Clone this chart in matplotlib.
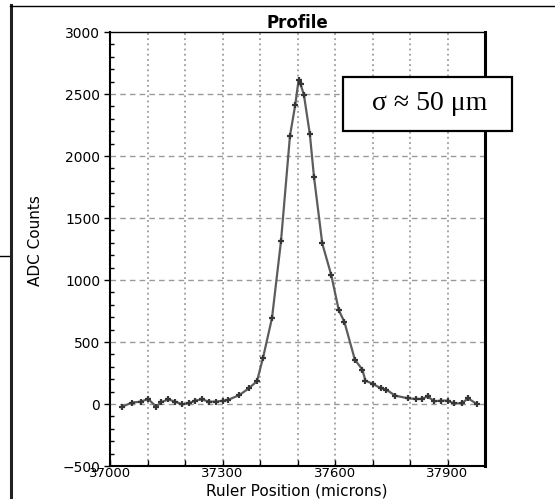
import numpy as np
import matplotlib
matplotlib.use("Agg")
import matplotlib.pyplot as plt
from matplotlib.patches import Rectangle
from matplotlib.lines import Line2D
from matplotlib.ticker import MultipleLocator, FixedLocator

# profile scan
position = [37033, 37058, 37082, 37102, 37123, 37136, 37155, 37174, 37192, 37210,
            37227, 37245, 37264, 37283, 37302, 37314, 37345, 37370, 37392, 37408,
            37432, 37456, 37480, 37494, 37503, 37508, 37517, 37533, 37544, 37566,
            37590, 37610, 37625, 37653, 37673, 37681, 37701, 37722, 37737, 37760,
            37794, 37815, 37832, 37847, 37864, 37883, 37900, 37917, 37938, 37955,
            37978]
adc_counts = [-21, 11, 19, 40, -21, 13, 37, 19, -3, 5,
              27, 37, 19, 19, 27, 32, 72, 126, 184, 372,
              693, 1314, 2165, 2412, 2615, 2580, 2495, 2174, 1831, 1295,
              1040, 757, 662, 357, 278, 189, 162, 127, 116, 68,
              46, 41, 41, 62, 22, 27, 27, 5, 5, 46,
              0]

x_ticks = list(range(37000, 38001, 100))
x_labelled = [37000, 37300, 37600, 37900]
y_ticks = list(range(-500, 3001, 500))

plt.rcParams["font.family"] = ["DejaVu Sans"]

fig = plt.figure(figsize=(5.55, 4.99), dpi=100)
W, H = 555, 499
ax = fig.add_axes([110 / W, 1 - 466 / H, 375 / W, 434 / H])

ax.plot(position, adc_counts, color="#5c5c5c", lw=1.6, zorder=3)
ax.plot(position, adc_counts, ls="none", marker="+", ms=5, mew=1.6,
        color="#363636", zorder=4)

ax.set_xlim(37000, 38000)
ax.set_ylim(-500, 3000)

ax.xaxis.set_major_locator(FixedLocator(x_ticks))
ax.set_xticklabels([str(t) if t in x_labelled else "" for t in x_ticks])
ax.yaxis.set_major_locator(FixedLocator(y_ticks))
ax.yaxis.set_minor_locator(MultipleLocator(100))

ax.tick_params(axis="x", direction="in", length=4, width=1, pad=1, labelsize=9.5)
ax.tick_params(axis="y", which="major", direction="out", length=4, width=1,
               pad=3, labelsize=10)
ax.tick_params(axis="y", which="minor", direction="in", length=3, width=1)

# grid: dotted verticals, dashed horizontals
for t in x_ticks[1:-1]:
    ax.axvline(t, color="#8c8c8c", ls=(0, (1.2, 2.2)), lw=1.1, zorder=1)
for t in y_ticks[1:-1]:
    ax.axhline(t, color="#9a9a9a", ls=(0, (4, 3)), lw=1.0, zorder=1)

ax.spines["left"].set_linewidth(1.5)
ax.spines["bottom"].set_linewidth(1.5)
ax.spines["right"].set_linewidth(2.2)
ax.spines["top"].set_linewidth(1.0)

ax.set_title("Profile", fontsize=12, fontweight="bold", pad=3)
fig.text(297 / W, 1 - 490.5 / H, "Ruler Position (microns)", fontsize=11,
         ha="center", va="center")
fig.text(35 / W, 1 - 241 / H, "ADC Counts", rotation=90, fontsize=11,
         ha="center", va="center")

# sigma box, overlapping the right edge of the plot
fig.patches.append(Rectangle((343 / W, 1 - 131 / H), 169 / W, 54 / H,
                             transform=fig.transFigure, facecolor="white",
                             edgecolor="black", lw=1.6, zorder=5))
fig.text(430 / W, 1 - 104 / H, "σ ≈ 50 μm", fontsize=20,
         family=["Liberation Serif", "DejaVu Serif"],
         ha="center", va="center", zorder=6)

# outer frame of the window
fig.add_artist(Line2D([11 / W, 11 / W], [0, 1 - 5 / H], color="#222222",
                      lw=2.2, transform=fig.transFigure))
fig.add_artist(Line2D([10 / W, 1], [1 - 6 / H, 1 - 6 / H], color="black",
                      lw=1.0, transform=fig.transFigure))
fig.add_artist(Line2D([0, 9 / W], [1 - 256 / H, 1 - 256 / H], color="black",
                      lw=1.0, transform=fig.transFigure))

fig.savefig("out.png", dpi=100)
